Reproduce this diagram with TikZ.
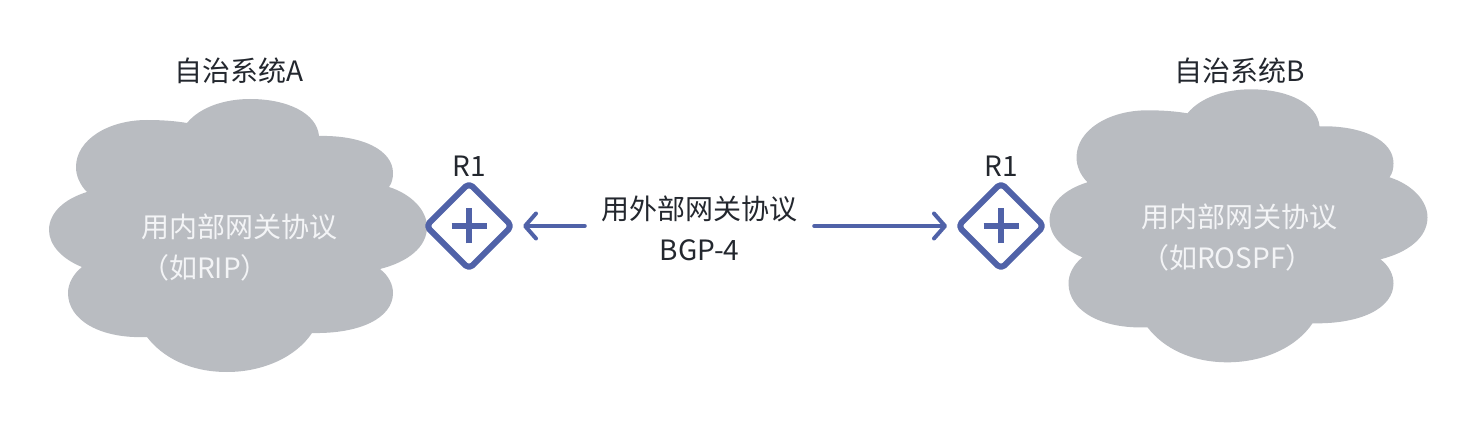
\documentclass[tikz,border=0pt]{standalone}
\usepackage{fontspec}
\setmainfont{Noto Sans CJK SC}
\usetikzlibrary{arrows.meta,shapes.geometric}
\definecolor{cloudgray}{HTML}{B9BCC1}
\definecolor{routerblue}{HTML}{5062A8}
\definecolor{inktext}{HTML}{23272E}
\definecolor{softwhite}{HTML}{F3F4F6}
\tikzset{
  bigtext/.style={font=\fontsize{28}{41}\selectfont,text=inktext,inner sep=0pt},
  cloudtext/.style={bigtext,text=softwhite,align=left,anchor=west},
  router/.style={diamond,draw=routerblue,line width=6pt,rounded corners=5pt,
    minimum width=88pt,minimum height=88pt,inner sep=0pt,outer sep=2.5pt},
  plusbar/.style={draw=routerblue,line width=6pt},
  flow/.style={draw=routerblue,line width=4pt,line cap=round,
    -{Straight Barb[length=11pt,width=25pt,round]}}
}
\begin{document}
\begin{tikzpicture}[x=1pt,y=-1pt,line join=round]
\useasboundingbox (0,0) rectangle (1478,422);

% -----------------------
% Clouds
% -----------------------
\def\dxB{1000.5} % shift of the right cloud
\def\dyB{-9.7}
\def\cloudbody{
  (187,123) .. controls (200,107) and (225,99) .. (250,99)
    .. controls (287,99) and (317,113) .. (319,136)
    .. controls (362,135) and (393,150) .. (393,173)
    .. controls (393,178) and (392,183) .. (389,187)
    .. controls (411,194) and (427,210) .. (427,227)
    .. controls (427,247) and (408,262) .. (380,269)
    .. controls (389,276) and (393,285) .. (393,293)
    .. controls (393,318) and (360,334) .. (312,333)
    .. controls (296,357) and (263,372) .. (227,372)
    .. controls (191,372) and (163,358) .. (147,337)
    .. controls (100,339) and (68,320) .. (68,293)
    .. controls (68,284) and (73,274) .. (82,267)
    .. controls (62,259) and (49,245) .. (49,230)
    .. controls (49,213) and (64,199) .. (87,192)
    .. controls (80,185) and (76,176) .. (76,167)
    .. controls (76,140) and (108,120) .. (147,120)
    .. controls (162,120) and (175,121) .. (187,123) -- cycle}
\fill[cloudgray] \cloudbody;
\fill[cloudgray,shift={(\dxB,\dyB)}] \cloudbody;

% Titles and cloud texts
\node[bigtext] (titleA) at (239,71) {自治系统A};
\node[bigtext] (titleB) at (1240,71) {自治系统B};
\node[cloudtext] (textA) at (141,248) {用内部网关协议\\（如RIP）};
\node[cloudtext] (textB) at (1141,238) {用内部网关协议\\（如ROSPF）};

% -----------------------
% Routers
% -----------------------
\node[router] (routerA) at (469,226) {};
\node[router] (routerB) at (1001,226) {};
\node[bigtext] (nameA) at (469,166.5) {R1};
\node[bigtext] (nameB) at (1001,166.5) {R1};
\foreach \r in {routerA,routerB} {
  \draw[plusbar] ([xshift=-17.5pt]\r.center) -- ([xshift=17.5pt]\r.center);
  \draw[plusbar] ([yshift=-17.5pt]\r.center) -- ([yshift=17.5pt]\r.center);
}

% -----------------------
% Middle label and arrows
% -----------------------
\node[bigtext,align=center,inner xsep=16.5pt] (protocol) at (699.5,228) {用外部网关协议\\BGP-4};
\draw[flow,shorten >=7.5pt] (protocol.west |- routerA.east) -- (routerA.east);
\draw[flow,shorten >=7.5pt] (protocol.east |- routerB.west) -- (routerB.west);

\end{tikzpicture}
\end{document}
